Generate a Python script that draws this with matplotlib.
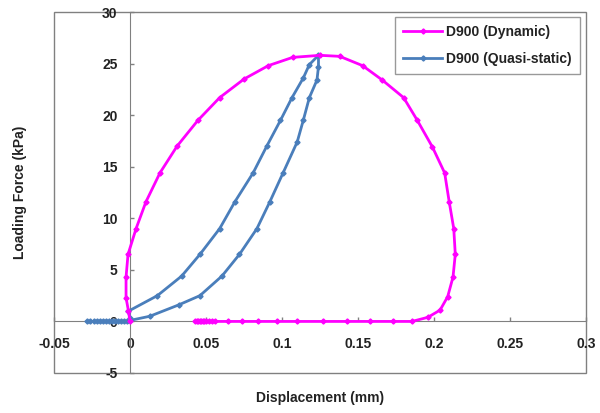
import matplotlib
matplotlib.use("Agg")
import matplotlib.pyplot as plt
from matplotlib.patches import Rectangle

plt.rcParams['font.family'] = ['Liberation Sans', 'DejaVu Sans']

# Dynamic curve (displacement mm, force kPa)
dyn_x = [0.0, -0.001, -0.0026, -0.0026, -0.0013, 0.004, 0.0105, 0.0197, 0.031,
         0.0447, 0.059, 0.075, 0.091, 0.107, 0.125, 0.138, 0.153, 0.166, 0.180,
         0.189, 0.199, 0.207, 0.210, 0.213, 0.214, 0.2125, 0.209, 0.204, 0.196,
         0.1855, 0.173, 0.158, 0.143, 0.127, 0.110, 0.0967, 0.084, 0.0737,
         0.0645, 0.056, 0.054, 0.052, 0.050, 0.049, 0.048, 0.047, 0.046, 0.045,
         0.044, 0.043]
dyn_y = [0.0, 1.0, 2.3, 4.3, 6.5, 9.0, 11.6, 14.4, 17.0,
         19.5, 21.7, 23.5, 24.8, 25.6, 25.8, 25.7, 24.8, 23.4, 21.7,
         19.5, 16.9, 14.4, 11.6, 9.0, 6.5, 4.3, 2.4, 1.1, 0.4,
         0.0, 0.0, 0.0, 0.0, 0.0, 0.0, 0.0, 0.0, 0.0,
         0.0, 0.0, 0.0, 0.0, 0.0, 0.0, 0.0, 0.0, 0.0, 0.0,
         0.0, 0.0]

# Quasi-static curve
qs_x = [-0.028, -0.026, -0.024, -0.022, -0.020, -0.018, -0.016, -0.014,
        -0.012, -0.010, -0.008, -0.006, -0.004, -0.002, 0.0, 0.013, 0.032,
        0.046, 0.0605, 0.072, 0.0835, 0.092, 0.1007, 0.110, 0.114, 0.118,
        0.123, 0.124, 0.124, 0.118, 0.114, 0.1066, 0.099, 0.090, 0.081,
        0.069, 0.059, 0.046, 0.034, 0.018, -0.001, 0.0]
qs_y = [0.0, 0.0, 0.0, 0.0, 0.0, 0.0, 0.0, 0.0,
        0.0, 0.0, 0.0, 0.0, 0.0, 0.0, 0.1, 0.5, 1.6,
        2.5, 4.4, 6.5, 9.0, 11.6, 14.4, 17.4, 19.5, 21.7,
        23.4, 24.7, 25.8, 24.9, 23.6, 21.7, 19.5, 17.0, 14.4,
        11.6, 9.0, 6.5, 4.4, 2.5, 1.0, 0.3]

x_ticks = [-0.05, 0, 0.05, 0.1, 0.15, 0.2, 0.25, 0.3]
x_tick_labels = ['-0.05', '0', '0.05', '0.1', '0.15', '0.2', '0.25', '0.3']
y_ticks = [-5, 0, 5, 10, 15, 20, 25, 30]
y_tick_labels = ['-5', '0', '5', '10', '15', '20', '25', '30']

fig = plt.figure(figsize=(6.0, 4.13), dpi=100)
ax = fig.add_axes([54/600, 1-373/413, (586-54)/600, (373-12)/413])

magenta = '#FF00FF'
blue = '#4A7EBB'

ax.plot(dyn_x, dyn_y, color=magenta, lw=2.0, marker='D', ms=2.6,
        label='D900 (Dynamic)', zorder=4)
ax.plot(qs_x, qs_y, color=blue, lw=2.0, marker='D', ms=2.6,
        label='D900 (Quasi-static)', zorder=3)

ax.set_xlim(-0.05, 0.3)
ax.set_ylim(-5, 30)

grey = '#808080'
for s in ['top', 'right']:
    ax.spines[s].set_visible(False)
ax.spines['left'].set_position(('data', 0))
ax.spines['bottom'].set_position(('data', 0))
ax.spines['left'].set_color(grey)
ax.spines['bottom'].set_color(grey)
ax.spines['left'].set_zorder(2)
ax.spines['bottom'].set_zorder(2)
ax.add_patch(Rectangle((0, 0), 1, 1, transform=ax.transAxes, fill=False,
                       edgecolor=grey, lw=1.0, clip_on=False, zorder=1))

ax.set_xticks(x_ticks)
ax.set_xticklabels(x_tick_labels)
ax.set_yticks(y_ticks)
ax.set_yticklabels(y_tick_labels)
ax.tick_params(axis='both', direction='in', length=3, color=grey,
               labelsize=10, width=1)
ax.tick_params(axis='x', pad=11)
ax.tick_params(axis='y', pad=9)
for lab in ax.get_xticklabels() + ax.get_yticklabels():
    lab.set_fontweight('bold')
    lab.set_color('#222222')

fig.text(320/600, 1-398/413, 'Displacement (mm)', ha='center', va='center',
         fontsize=10, fontweight='bold', color='#222222')
fig.text(20/600, 1-192/413, 'Loading Force (kPa)', ha='center', va='center',
         rotation=90, fontsize=10, fontweight='bold', color='#222222')

leg = fig.legend(loc='upper left', bbox_to_anchor=(395/600, 1-17/413),
                 borderaxespad=0, fancybox=False, frameon=True,
                 prop={'size': 10, 'weight': 'bold'}, handlelength=2.8,
                 labelspacing=0.9, handletextpad=0.3, borderpad=0.6)
leg.get_frame().set_edgecolor(grey)
leg.get_frame().set_linewidth(1.0)
for t in leg.get_texts():
    t.set_color('#222222')

fig.savefig('out.png', dpi=100)
